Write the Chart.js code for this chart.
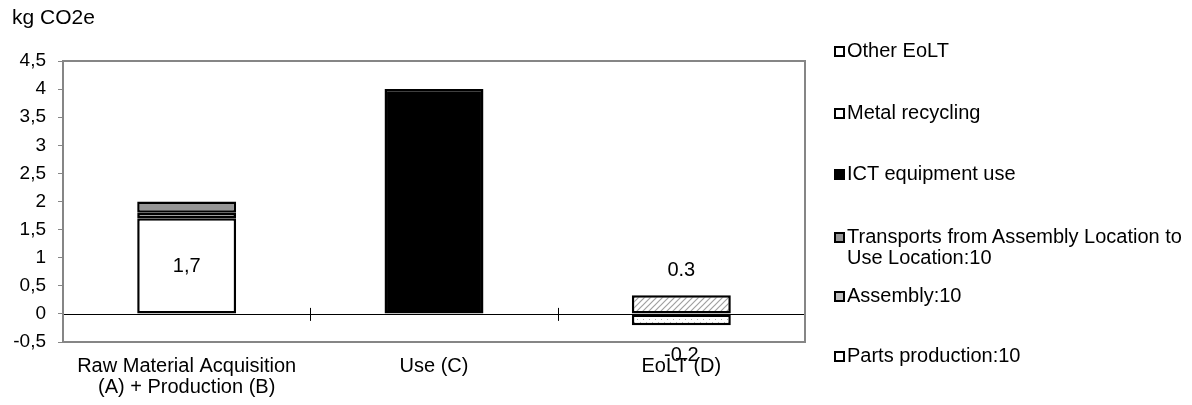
<!DOCTYPE html>
<html>
<head>
<meta charset="utf-8">
<script src="https://cdn.jsdelivr.net/npm/chart.js@4"></script>
<style>
  body { margin: 0; background: #fff; font-family: "Liberation Sans", Arial, sans-serif; }
  #wrap { position: relative; width: 1192px; height: 405px; }
  #legend { position: absolute; left: 834px; top: 0; width: 360px; font-size: 20px; color: #000; }
  .item { position: absolute; left: 0; line-height: 21px; padding-left: 13px; white-space: nowrap; }
  .box { position: absolute; left: 0; top: 6px; width: 7px; height: 7px; border: 2px solid #000; }
</style>
</head>
<body>
<div id="wrap">
  <canvas id="chart" width="1192" height="405"></canvas>
  <div id="legend"></div>
</div>
<script>
// data
var categories = [['Raw Material Acquisition', '(A) + Production (B)'], 'Use (C)', 'EoLT (D)'];
var partsProduction = [1.7, null, null];
var assembly = [0.1, null, null];
var transports = [0.2, null, null];
var ictUse = [null, 4, null];
var metalRecycling = [null, null, -0.2];
var otherEoLT = [null, null, 0.33];
var yTicks = [-0.5, 0, 0.5, 1, 1.5, 2, 2.5, 3, 3.5, 4, 4.5];
var barLabels = [
    { cat: 0, value: 0.85, text: '1,7' },
    { cat: 2, value: 0.78, text: '0.3' },
    { cat: 2, value: -0.74, text: '-0.2' }
];

function makePattern(kind) {
    var c = document.createElement('canvas');
    c.width = 6; c.height = 6;
    var g = c.getContext('2d');
    g.fillStyle = '#fff';
    g.fillRect(0, 0, 6, 6);
    if (kind == 'hatch') {
        g.strokeStyle = '#a0a0a0';
        g.lineWidth = 1.2;
        g.beginPath();
        g.moveTo(0, 6); g.lineTo(6, 0);
        g.moveTo(-2, 2); g.lineTo(2, -2);
        g.moveTo(4, 8); g.lineTo(8, 4);
        g.stroke();
    } else {
        g.fillStyle = '#a8a8a8';
        g.fillRect(1, 1, 1, 1);
        g.fillRect(4, 4, 1, 1);
    }
    return g.createPattern(c, 'repeat');
}

var ctx = document.getElementById('chart').getContext('2d');
var hatch = makePattern('hatch');
var dots = makePattern('dots');

var datasets = [
    { label: 'Parts production:10', data: partsProduction, backgroundColor: '#ffffff' },
    { label: 'Assembly:10', data: assembly, backgroundColor: '#c0c0c0' },
    { label: 'Transports from Assembly Location to\nUse Location:10', data: transports, backgroundColor: '#969696' },
    { label: 'ICT equipment use', data: ictUse, backgroundColor: '#000000' },
    { label: 'Metal recycling', data: metalRecycling, backgroundColor: dots },
    { label: 'Other EoLT', data: otherEoLT, backgroundColor: hatch }
];
datasets.forEach(function (d) {
    d.borderColor = '#000';
    d.borderWidth = 2.5;
    d.borderSkipped = false;
    d.barPercentage = 0.4;
    d.categoryPercentage = 1;
});

// frame, zero line and text
var extras = {
    id: 'extras',
    beforeDatasetsDraw: function (chart) {
        var g = chart.ctx;
        var y0 = chart.scales.y.getPixelForValue(0);
        var x = chart.scales.x;
        g.save();
        g.strokeStyle = '#000';
        g.lineWidth = 1;
        g.beginPath();
        for (var i = 1; i < categories.length; i++) {
            var xb = Math.round((x.getPixelForValue(i - 1) + x.getPixelForValue(i)) / 2) + 0.5;
            g.moveTo(xb, y0 - 6);
            g.lineTo(xb, y0 + 7);
        }
        g.stroke();
        g.restore();
    },
    afterDatasetsDraw: function (chart) {
        var a = chart.chartArea, g = chart.ctx;
        var y0 = Math.round(chart.scales.y.getPixelForValue(0)) + 0.5;
        g.save();
        g.strokeStyle = '#000';
        g.lineWidth = 1;
        g.beginPath();
        g.moveTo(a.left, y0);
        g.lineTo(a.right, y0);
        g.stroke();
        g.restore();
    },
    afterDraw: function (chart) {
        var a = chart.chartArea, g = chart.ctx;
        g.save();
        g.strokeStyle = '#868686';
        g.lineWidth = 2;
        g.strokeRect(a.left, a.top, a.right - a.left, a.bottom - a.top);
        g.fillStyle = '#000';
        g.font = '21px "Liberation Sans", Arial';
        g.textAlign = 'left';
        g.textBaseline = 'middle';
        g.fillText('kg CO2e', 12, 18);
        g.font = '20px "Liberation Sans", Arial';
        g.textAlign = 'center';
        barLabels.forEach(function (l) {
            g.fillText(l.text, chart.scales.x.getPixelForValue(l.cat), chart.scales.y.getPixelForValue(l.value));
        });
        g.restore();
    }
};

new Chart(ctx, {
    type: 'bar',
    data: { labels: categories, datasets: datasets },
    options: {
        responsive: false,
        animation: false,
        layout: { padding: { top: 61, right: 387, bottom: 0, left: 0 } },
        plugins: { legend: { display: false }, tooltip: { enabled: false } },
        scales: {
            x: {
                stacked: true,
                grid: { display: false },
                border: { display: false },
                ticks: {
                    color: '#000',
                    font: { size: 20, family: '"Liberation Sans", Arial', lineHeight: 1.05 },
                    padding: 6,
                    maxRotation: 0
                },
                afterFit: function (s) { s.height = 63; }
            },
            y: {
                stacked: true,
                min: -0.5,
                max: 4.5,
                afterBuildTicks: function (s) { s.ticks = yTicks.map(function (v) { return { value: v }; }); },
                grid: { drawOnChartArea: false, color: '#868686', tickLength: 5, lineWidth: 1 },
                border: { display: false },
                ticks: {
                    color: '#000',
                    font: { size: 19, family: '"Liberation Sans", Arial' },
                    padding: 12,
                    callback: function (v) { return String(v).replace('.', ','); }
                },
                afterFit: function (s) { s.width = 63; }
            }
        }
    },
    plugins: [extras]
});

// legend, top item = last dataset
var legendTops = [40, 102, 163, 226, 285, 345];
var leg = document.getElementById('legend');
datasets.slice().reverse().forEach(function (d, i) {
    var it = document.createElement('div');
    it.className = 'item';
    it.style.top = legendTops[i] + 'px';
    var b = document.createElement('span');
    b.className = 'box';
    var bg = d.backgroundColor;
    b.style.background = (typeof bg == 'string') ? bg : '#fff';
    it.appendChild(b);
    d.label.split('\n').forEach(function (t, k) {
        if (k > 0) it.appendChild(document.createElement('br'));
        it.appendChild(document.createTextNode(t));
    });
    leg.appendChild(it);
});
</script>
</body>
</html>
